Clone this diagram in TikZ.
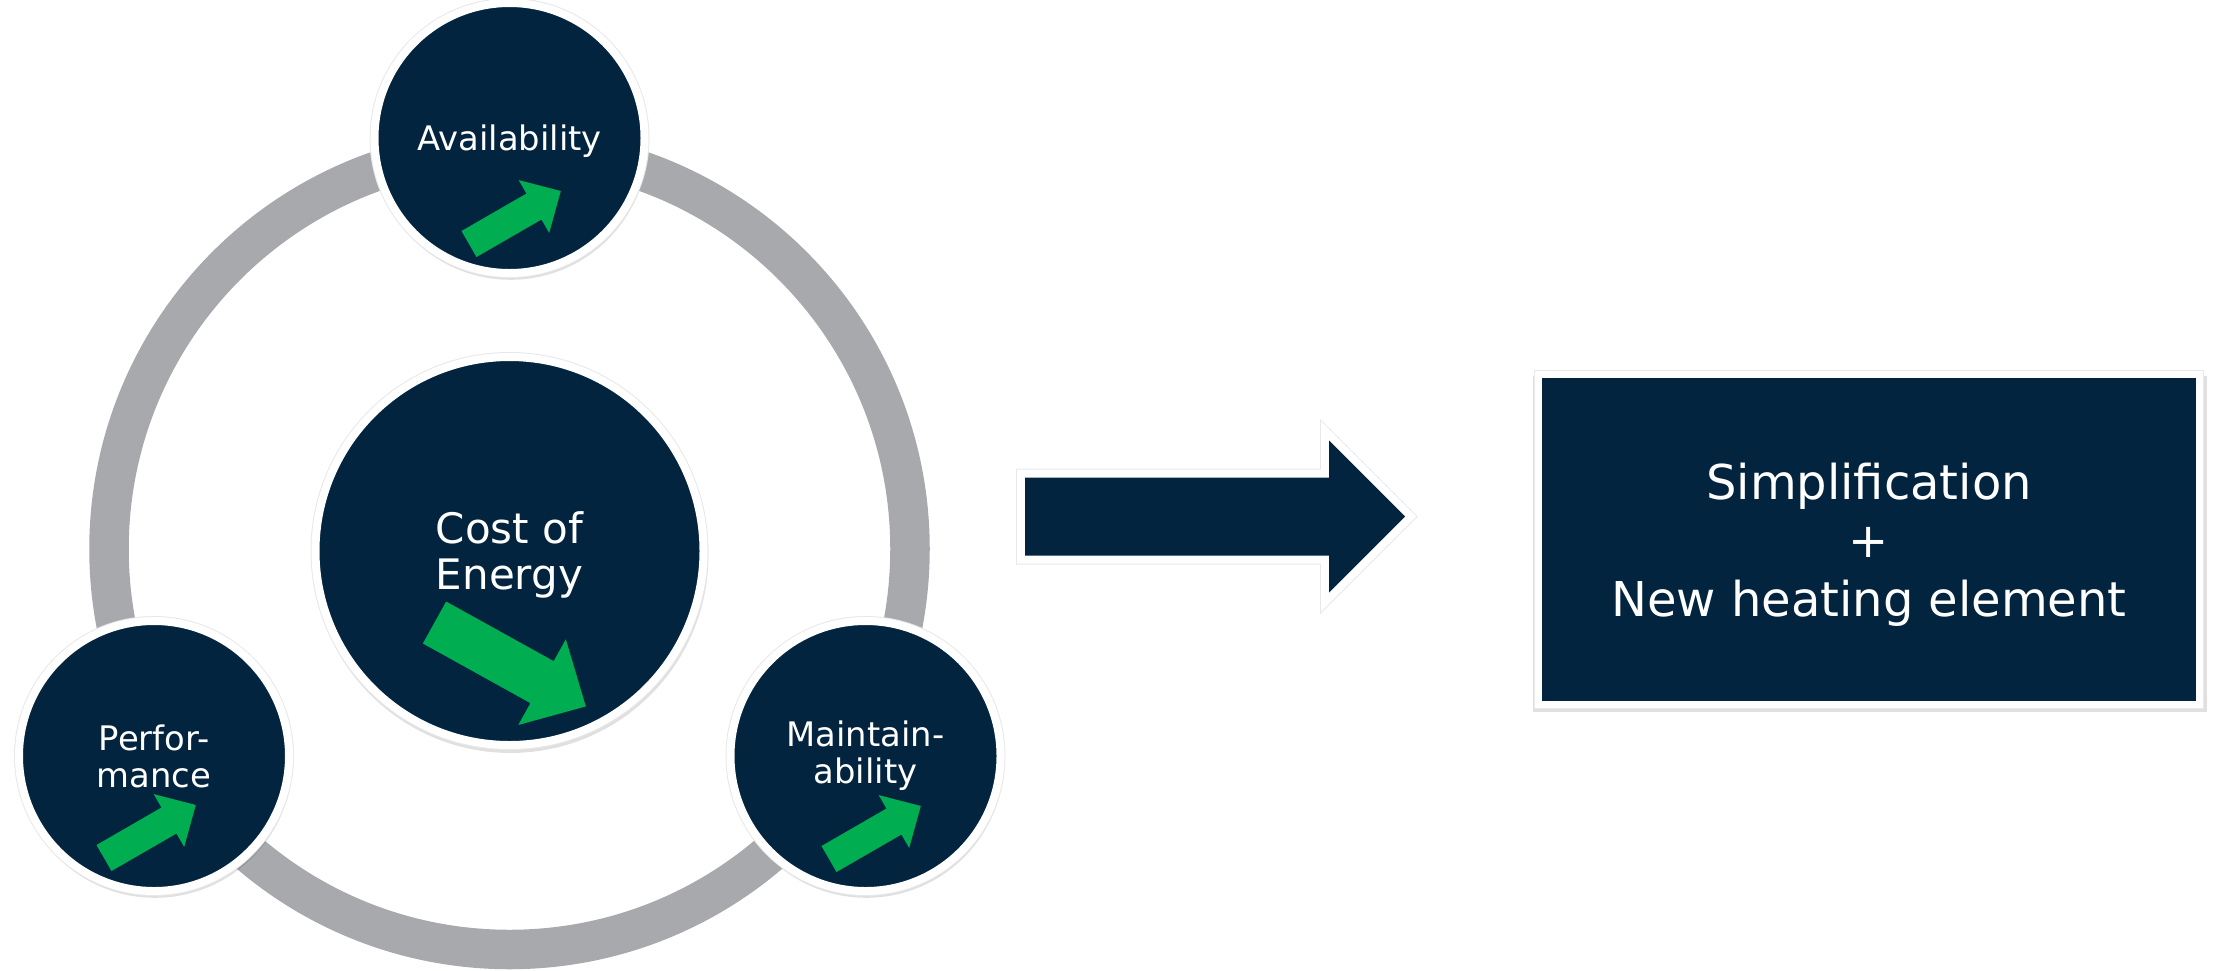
\documentclass[tikz,border=0pt]{standalone}
\usepackage{fontspec}
\setmainfont{DejaVu Sans}
\usetikzlibrary{shadows,calc}
\definecolor{navy}{HTML}{02243F}
\definecolor{ringgray}{HTML}{A8A9AD}
\definecolor{arrowgreen}{HTML}{00AD50}
\newcommand\grarrow[6]{% #1 tail point, #2 angle, #3 length, #4 head length, #5 half shaft, #6 half head
  \fill[arrowgreen, shift={#1}, rotate=#2]
    (0,-#5) -- ({#3-#4},-#5) -- ({#3-#4},-#6) -- (#3,0) -- ({#3-#4},#6) -- ({#3-#4},#5) -- (0,#5) -- cycle;}
\begin{document}
\begin{tikzpicture}[x=1pt,y=-1pt,
  softshadow/.style={drop shadow={shadow xshift=1pt, shadow yshift=-4pt, shadow scale=1.02, opacity=0.12, fill=black}},
  halo/.style={preaction={draw=black!9, line width=#1}},
  smallcircle/.style={circle, softshadow, halo=10pt, fill=navy, draw=white, line width=8pt, minimum size=270pt,
    inner sep=0pt, text=white, align=center, font=\fontsize{33.8}{37}\selectfont},
  bigcircle/.style={circle, softshadow, halo=10pt, fill=navy, draw=white, line width=8pt, minimum size=388pt,
    inner sep=0pt, text=white, align=center, font=\fontsize{42}{46}\selectfont},
  resultbox/.style={rectangle, softshadow, halo=9pt, fill=navy, draw=white, line width=7pt, minimum width=661pt,
    minimum height=329.4pt, inner sep=0pt, text=white, align=center,
    font=\fontsize{48}{58.3}\selectfont},
  ring/.style={draw=ringgray, line width=39.5pt}
]
\useasboundingbox (0,0) rectangle (2213,970);

% ring
\coordinate (ringc) at (509.5,549);
\draw[ring] (ringc) circle (400.5pt);

% circles
\node[bigcircle, text depth=0pt] (coe) at (509.5,551) {Cost of\\Energy};
\node[smallcircle, text depth=0pt] (avail) at (509.5,138) {Availability};
\node[smallcircle] (perf) at (154,756) {Perfor-\\mance};
\node[smallcircle] (maint) at (865.5,756) {Maintain-\\ability};

% green arrows
\grarrow{($(avail)+(-40.5,106)$)}{30}{106}{31}{15}{30.5}
\grarrow{($(perf)+(-50,102)$)}{30}{106}{31}{15}{30.5}
\grarrow{($(maint)+(-36.5,103)$)}{30}{106}{31}{15}{30.5}
\grarrow{($(coe)+(-75,71.5)$)}{-29}{173}{50}{24}{49}

% big arrow
\coordinate (a1) at (1025,477.5);
\coordinate (a2) at (1329,477.5);
\coordinate (a3) at (1329,440.5);
\coordinate (tip) at (1405,516.5);
\coordinate (a5) at (1329,592.5);
\coordinate (a6) at (1329,555.5);
\coordinate (a7) at (1025,555.5);
\path[fill=navy, softshadow, preaction={draw=black!9, line width=18pt, line join=miter},
      preaction={draw=white, line width=16pt, line join=miter}]
  (a1) -- (a2) -- (a3) -- (tip) -- (a5) -- (a6) -- (a7) -- cycle;

% result box
\node[resultbox, text depth=0pt] (result) at (1869,539.5) {Simplification\\+\\New heating element};
\end{tikzpicture}
\end{document}
